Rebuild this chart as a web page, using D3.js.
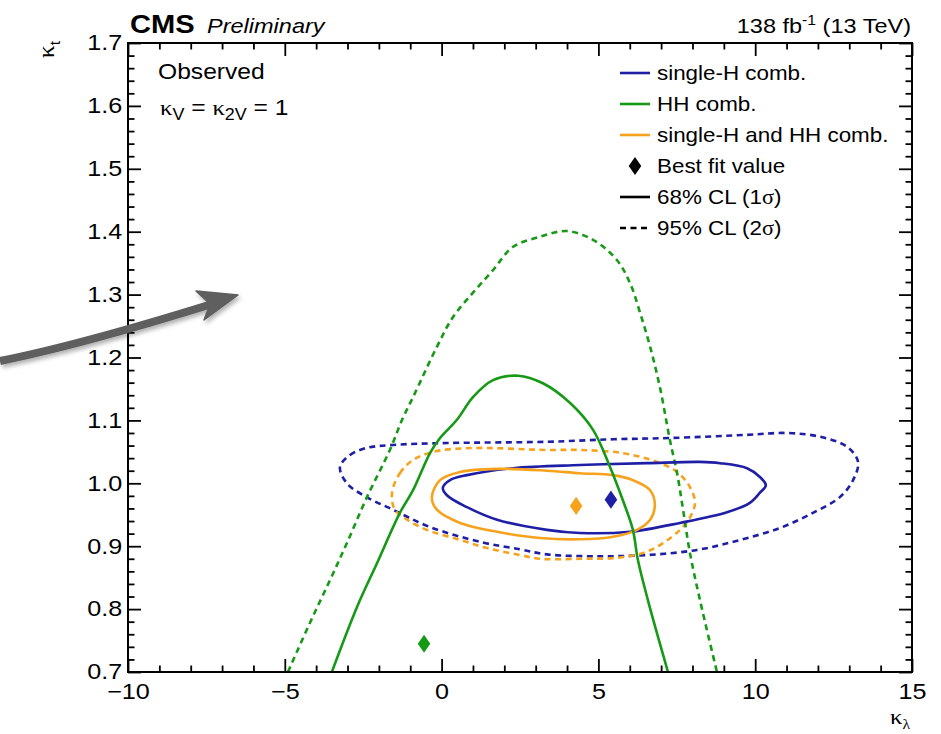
<!DOCTYPE html>
<html>
<head>
<meta charset="utf-8">
<script src="https://cdn.jsdelivr.net/npm/d3@7"></script>
<style>
  html, body { margin: 0; padding: 0; background: #fff; }
  svg { display: block; }
  text { font-family: "Liberation Sans", Arial, Helvetica, sans-serif; fill: #000; }
  .sym { font-family: "Liberation Serif", "DejaVu Serif", serif; }
</style>
</head>
<body>
<svg id="chart" width="941" height="734"></svg>
<script>
// ---- axis ticks ----
const klTicks = [-10, -5, 0, 5, 10, 15];
const ktTicks = [0.7, 0.8, 0.9, 1.0, 1.1, 1.2, 1.3, 1.4, 1.5, 1.6, 1.7];
const klMinor = [-9, -8, -7, -6, -4, -3, -2, -1, 1, 2, 3, 4, 6, 7, 8, 9, 11, 12, 13, 14];
const ktMinor = [0.72, 0.74, 0.76, 0.78, 0.82, 0.84, 0.86, 0.88, 0.92, 0.94, 0.96, 0.98,
                 1.02, 1.04, 1.06, 1.08, 1.12, 1.14, 1.16, 1.18, 1.22, 1.24, 1.26, 1.28,
                 1.32, 1.34, 1.36, 1.38, 1.42, 1.44, 1.46, 1.48, 1.52, 1.54, 1.56, 1.58,
                 1.62, 1.64, 1.66, 1.68];

// ---- likelihood contours, [kappa_lambda, kappa_t] ----
// HH combination (open contours, leave through the lower edge)
const hh68 = [[-3.50,0.70],[-2.70,0.803],[-2.06,0.873],[-1.33,0.953],[-0.91,0.989],[-0.37,1.048],
  [-0.05,1.072],[0.49,1.101],[1.00,1.137],[1.64,1.164],[2.44,1.171],[3.23,1.159],[4.09,1.128],
  [4.83,1.085],[5.37,1.026],[5.78,0.973],[6.10,0.926],[6.26,0.878],[6.58,0.814],[7.22,0.70]];
const hh95 = [[-4.90,0.70],[-4.20,0.778],[-3.56,0.846],[-3.02,0.905],[-2.38,0.978],[-1.65,1.053],
  [-1.26,1.101],[-0.91,1.137],[-0.15,1.217],[0.36,1.264],[1.00,1.303],[1.64,1.339],[2.28,1.376],
  [3.14,1.392],[4.00,1.401],[4.83,1.387],[5.59,1.355],[6.01,1.318],[6.33,1.271],[6.65,1.217],
  [6.96,1.153],[7.28,1.069],[7.51,1.016],[7.70,0.958],[7.92,0.889],[8.24,0.814],[8.78,0.70]];
// single-H combination (closed)
const singleH68 = [[0.04,0.993],[0.27,1.005],[0.81,1.013],[2.28,1.024],[4.41,1.029],[6.55,1.032],
  [8.24,1.034],[8.88,1.032],[9.74,1.024],[10.15,1.010],[10.34,0.997],[10.15,0.985],[9.83,0.969],
  [9.10,0.954],[7.60,0.937],[6.01,0.923],[4.41,0.921],[3.36,0.926],[1.77,0.942],[0.81,0.962],[0.17,0.981]];
const singleH95 = [[-3.24,1.026],[-2.92,1.045],[-2.41,1.056],[-1.55,1.061],[0.17,1.064],[3.36,1.066],
  [5.47,1.070],[7.28,1.072],[9.74,1.077],[11.01,1.080],[12.07,1.074],[12.93,1.058],[13.28,1.034],
  [13.12,1.005],[12.70,0.978],[11.84,0.953],[10.79,0.929],[9.52,0.910],[8.14,0.894],[6.55,0.886],
  [4.96,0.884],[3.36,0.887],[2.50,0.895],[1.30,0.906],[-0.40,0.931],[-1.55,0.958],[-2.39,0.978],[-3.02,1.000]];
// single-H and HH combination (closed)
const comb68 = [[-0.31,0.978],[-0.05,1.005],[0.59,1.018],[1.77,1.023],[3.36,1.020],[4.41,1.016],
  [5.47,1.013],[6.10,1.005],[6.65,0.989],[6.80,0.966],[6.65,0.942],[6.23,0.926],[5.47,0.915],
  [4.41,0.911],[3.14,0.913],[1.77,0.923],[0.59,0.937],[-0.15,0.958]];
const comb95 = [[-1.58,0.985],[-1.33,1.016],[-0.91,1.037],[-0.27,1.050],[0.91,1.056],[3.36,1.053],
  [4.41,1.053],[5.78,1.048],[6.87,1.034],[7.51,1.018],[7.92,0.994],[8.08,0.969],[7.92,0.946],
  [7.60,0.926],[7.06,0.905],[6.42,0.889],[5.47,0.881],[4.41,0.880],[3.14,0.880],[2.50,0.886],
  [1.45,0.897],[0.59,0.910],[-0.47,0.926],[-1.10,0.942],[-1.49,0.958]];

// best-fit points
const bestFitNames = ["single-H", "HH", "combined"];
const bestFitKl = [5.40, -0.56, 4.29];
const bestFitKt = [0.974, 0.745, 0.964];

// legend labels
const legendLabels = ["single-H comb.", "HH comb.", "single-H and HH comb.", "Best fit value"];

// ---- styling ----
const colors = { "single-H": "#1f1fa6", "HH": "#169a16", "combined": "#f6a21d" };
const W = 941, H = 734;
const plot = { left: 128, right: 912, top: 43, bottom: 672 };
const TXT = 1.12;   // horizontal glyph stretch used for all text

const svg = d3.select("#chart");
const x = d3.scaleLinear().domain([-10, 15]).range([plot.left, plot.right]);
const y = d3.scaleLinear().domain([0.7, 1.7]).range([plot.bottom, plot.top]);

const defs = svg.append("defs");
defs.append("clipPath").attr("id", "plotClip").append("rect")
  .attr("x", plot.left).attr("y", plot.top)
  .attr("width", plot.right - plot.left).attr("height", plot.bottom - plot.top);
const shadow = defs.append("filter").attr("id", "arrowShadow")
  .attr("x", "-20%").attr("y", "-50%").attr("width", "140%").attr("height", "200%");
shadow.append("feDropShadow").attr("dx", 2).attr("dy", 3).attr("stdDeviation", 2.2)
  .attr("flood-color", "#000").attr("flood-opacity", 0.3);

svg.append("rect").attr("width", W).attr("height", H).attr("fill", "#fff");

// helper: text placed through a transform so glyphs can be stretched
function label(parent, px, py, size, anchor) {
  return parent.append("text")
    .attr("transform", `translate(${px},${py}) scale(${TXT},1)`)
    .attr("font-size", size)
    .attr("text-anchor", anchor || "start");
}

// ---- contours ----
const closedLine = d3.line().x(d => x(d[0])).y(d => y(d[1])).curve(d3.curveCatmullRomClosed.alpha(0.5));
const openLine = d3.line().x(d => x(d[0])).y(d => y(d[1])).curve(d3.curveCatmullRom.alpha(0.5));
const contours = [
  { data: singleH95, key: "single-H", dashed: true, closed: true },
  { data: comb95, key: "combined", dashed: true, closed: true },
  { data: hh95, key: "HH", dashed: true, closed: false },
  { data: singleH68, key: "single-H", dashed: false, closed: true },
  { data: comb68, key: "combined", dashed: false, closed: true },
  { data: hh68, key: "HH", dashed: false, closed: false }
];
const gC = svg.append("g").attr("clip-path", "url(#plotClip)");
gC.selectAll("path.contour").data(contours).join("path")
  .attr("class", "contour")
  .attr("d", c => (c.closed ? closedLine : openLine)(c.data))
  .attr("fill", "none")
  .attr("stroke", c => colors[c.key])
  .attr("stroke-width", 2.6)
  .attr("stroke-linejoin", "round")
  .attr("stroke-dasharray", c => c.dashed ? "6,4.5" : null);

// best-fit diamonds
const diamond = d3.symbol().type(d3.symbolDiamond).size(95);
gC.selectAll("path.best").data(bestFitNames).join("path")
  .attr("class", "best")
  .attr("d", diamond)
  .attr("transform", (d, i) => `translate(${x(bestFitKl[i])},${y(bestFitKt[i])}) scale(1.2,1)`)
  .attr("fill", d => colors[d]);

// ---- axes (ticks point into the frame on all four sides) ----
const fmtKt = d3.format(".1f");
function styleAxis(g) {
  g.select(".domain").remove();
  g.selectAll(".tick line").attr("stroke", "#000").attr("stroke-width", 1.8);
  g.selectAll(".tick text").attr("font-size", 21.5).attr("font-family", "Liberation Sans, Arial, sans-serif")
    .attr("fill", "#000");
}
const MAJ = 13, MIN = 6.5;
svg.append("g").attr("transform", `translate(0,${plot.bottom})`)
  .call(d3.axisBottom(x).tickValues(klTicks).tickSize(-MAJ).tickPadding(12).tickFormat(d3.format("d")))
  .call(styleAxis)
  .call(g => g.selectAll(".tick text").attr("transform", `scale(${TXT + 0.05},1)`));
svg.append("g").attr("transform", `translate(0,${plot.bottom})`)
  .call(d3.axisBottom(x).tickValues(klMinor).tickSize(-MIN).tickFormat(""))
  .call(styleAxis);
svg.append("g").attr("transform", `translate(0,${plot.top})`)
  .call(d3.axisTop(x).tickValues(klTicks).tickSize(-MAJ).tickFormat(""))
  .call(styleAxis);
svg.append("g").attr("transform", `translate(0,${plot.top})`)
  .call(d3.axisTop(x).tickValues(klMinor).tickSize(-MIN).tickFormat(""))
  .call(styleAxis);
svg.append("g").attr("transform", `translate(${plot.left},0)`)
  .call(d3.axisLeft(y).tickValues(ktTicks).tickSize(-MAJ).tickPadding(5).tickFormat(fmtKt))
  .call(styleAxis)
  .call(g => g.selectAll(".tick text").attr("transform", `scale(${TXT + 0.05},1)`));
svg.append("g").attr("transform", `translate(${plot.left},0)`)
  .call(d3.axisLeft(y).tickValues(ktMinor).tickSize(-MIN).tickFormat(""))
  .call(styleAxis);
svg.append("g").attr("transform", `translate(${plot.right},0)`)
  .call(d3.axisRight(y).tickValues(ktTicks).tickSize(-MAJ).tickFormat(""))
  .call(styleAxis);
svg.append("g").attr("transform", `translate(${plot.right},0)`)
  .call(d3.axisRight(y).tickValues(ktMinor).tickSize(-MIN).tickFormat(""))
  .call(styleAxis);

// frame
svg.append("rect")
  .attr("x", plot.left).attr("y", plot.top)
  .attr("width", plot.right - plot.left).attr("height", plot.bottom - plot.top)
  .attr("fill", "none").attr("stroke", "#000").attr("stroke-width", 2);

// ---- axis titles ----
const xt = label(svg, plot.right - 2, 724, 22, "end");
xt.append("tspan").attr("class", "sym").text("κ");
xt.append("tspan").attr("class", "sym").attr("font-size", 14).attr("dy", 5).text("λ");

const yt = svg.append("text")
  .attr("transform", `translate(54,${plot.top - 2}) rotate(-90) scale(${TXT},1)`)
  .attr("font-size", 23).attr("text-anchor", "end");
yt.append("tspan").attr("class", "sym").text("κ");
yt.append("tspan").attr("font-size", 14).attr("dy", 6).text("t");

// ---- header ----
label(svg, 130, 33, 26).attr("font-weight", "bold").text("CMS");
label(svg, 207, 33, 21).attr("font-style", "italic").text("Preliminary");

const lumi = label(svg, 911, 33, 21, "end");
lumi.append("tspan").text("138 fb");
lumi.append("tspan").attr("font-size", 14).attr("dy", -8).text("-1");
lumi.append("tspan").attr("dy", 8).text(" (13 TeV)");

// ---- in-frame notes ----
label(svg, 158, 79, 22).text("Observed");
const kv = label(svg, 160, 115, 22);
kv.append("tspan").attr("class", "sym").text("κ");
kv.append("tspan").attr("font-size", 16).attr("dy", 5).text("V");
kv.append("tspan").attr("dy", -5).text(" = ");
kv.append("tspan").attr("class", "sym").text("κ");
kv.append("tspan").attr("font-size", 16).attr("dy", 5).text("2V");
kv.append("tspan").attr("dy", -5).text(" = 1");

// ---- legend ----
const legendX0 = 620, legendX1 = 650, legendTextX = 657;
const rowY = i => 73 + 31 * i;
const legendKeys = ["single-H", "HH", "combined"];
const gL = svg.append("g");
legendKeys.forEach((k, i) => {
  gL.append("line").attr("x1", legendX0).attr("x2", legendX1).attr("y1", rowY(i)).attr("y2", rowY(i))
    .attr("stroke", colors[k]).attr("stroke-width", 2.6);
  label(gL, legendTextX, rowY(i) + 7, 20).text(legendLabels[i]);
});
gL.append("path").attr("d", diamond)
  .attr("transform", `translate(${(legendX0 + legendX1) / 2},${rowY(3)}) scale(1.2,1)`).attr("fill", "#000");
label(gL, legendTextX, rowY(3) + 7, 20).text(legendLabels[3]);
[false, true].forEach((dashed, j) => {
  const i = 4 + j;
  gL.append("line").attr("x1", legendX0).attr("x2", legendX1).attr("y1", rowY(i)).attr("y2", rowY(i))
    .attr("stroke", "#000").attr("stroke-width", 2.6).attr("stroke-dasharray", dashed ? "6,4.5" : null);
  const t = label(gL, legendTextX, rowY(i) + 7, 20);
  t.append("tspan").text(dashed ? "95% CL (2" : "68% CL (1");
  t.append("tspan").attr("class", "sym").text("σ");
  t.append("tspan").text(")");
});

// ---- pointer arrow ----
const gA = svg.append("g").attr("filter", "url(#arrowShadow)");
gA.append("path")
  .attr("d", "M0,361 C60,349 125,331 212,304")
  .attr("fill", "none").attr("stroke", "#5e5e5e").attr("stroke-width", 8);
gA.append("path")
  .attr("d", "M238,295 L196,291 L210,304 L204,320 Z")
  .attr("fill", "#5e5e5e").attr("stroke", "#5e5e5e").attr("stroke-width", 1.5).attr("stroke-linejoin", "round");
</script>
</body>
</html>
